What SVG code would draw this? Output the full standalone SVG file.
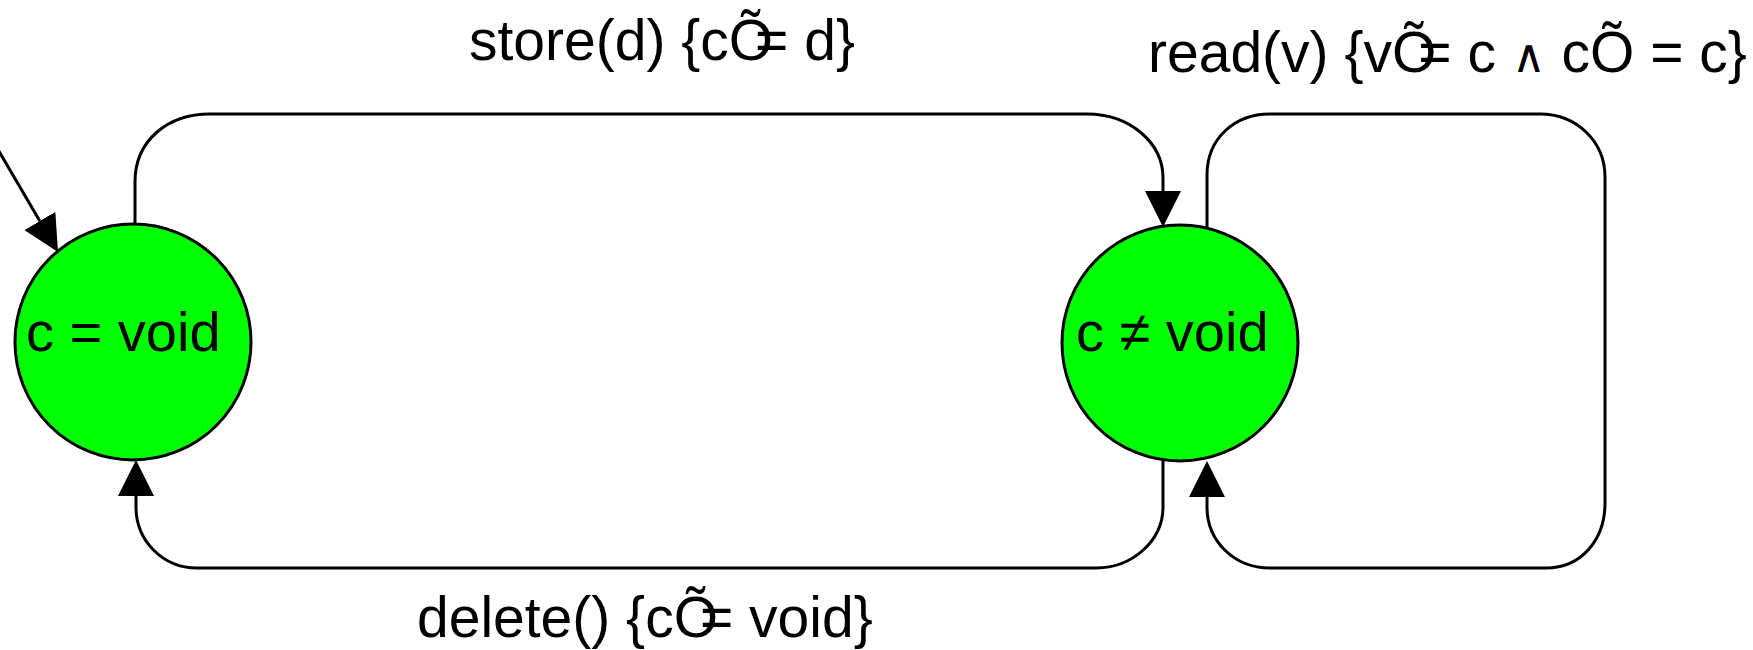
<svg xmlns="http://www.w3.org/2000/svg" width="1753" height="650" viewBox="0 0 1753 650">
  <style>
    .state { fill: #00ff00; stroke: #000; stroke-width: 3; }
    .lbl { font-family: "Liberation Sans", Arial, sans-serif; font-size: 56px; fill: #000; }
    .elbl { font-family: "Liberation Sans", Arial, sans-serif; font-size: 57px; fill: #000; }
    .edge { fill: none; stroke: #000; stroke-width: 3; }
  </style>
  <defs>
    <marker id="arrow" viewBox="0 0 36 36" refX="0" refY="18" markerWidth="36" markerHeight="36" markerUnits="userSpaceOnUse" orient="auto">
      <path d="M0,0 L36,18 L0,36 z" fill="#000"/>
    </marker>
  </defs>
  <rect width="1753" height="650" fill="#fff"/>

  <g id="connectors">
    <path class="edge" marker-end="url(#arrow)" d="M-10,136 L39.8,221"/>
    <path class="edge" marker-end="url(#arrow)" d="M135,227 V182 C135,140 168,114 210,114 H1087 C1129,114 1163,142 1163,178 V191"/>
    <path class="edge" marker-end="url(#arrow)" d="M1207,228 V175 C1207,139 1234,114 1270,114 H1540 C1576,114 1605,141 1605,177 V503 C1605,539 1582,568 1546,568 H1270 C1234,568 1207,541 1207,507 V497"/>
    <path class="edge" marker-end="url(#arrow)" d="M1163,459 V507 C1163,541 1132,568 1096,568 H197 C163,568 136,541 136,507 V496"/>
  </g>

  <g id="state-void">
    <circle class="state" cx="133" cy="342" r="118"/>
    <text class="lbl" x="26" y="351">c = void</text>
  </g>

  <g id="state-notvoid">
    <circle class="state" cx="1180" cy="343" r="118"/>
    <text class="lbl" x="1076" y="351">c ≠ void</text>
  </g>

  <g id="labels">
    <text class="elbl" x="469" y="60">store(d) {cÕ<tspan dx="-18">= d}</tspan></text>
    <text class="elbl" x="1148" y="72">read(v) {vÕ<tspan dx="-18">= c </tspan><tspan font-size="46">∧</tspan> cÕ = c}</text>
    <text class="elbl" x="417" y="637">delete() {cÕ<tspan dx="-18">= void}</tspan></text>
  </g>
</svg>
